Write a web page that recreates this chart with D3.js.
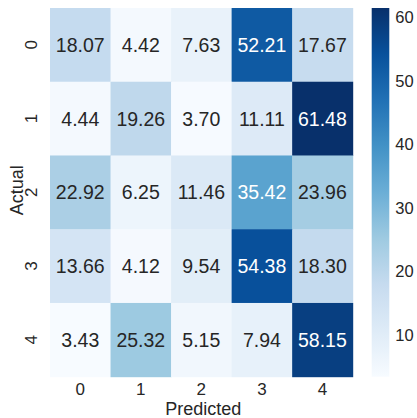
<!DOCTYPE html>
<html>
<head>
<meta charset="utf-8">
<script src="https://cdn.jsdelivr.net/npm/d3@7/dist/d3.min.js"></script>
<style>
  html, body { margin: 0; padding: 0; background: #ffffff; }
  svg { display: block; font-family: "Liberation Sans", Arial, sans-serif; }
</style>
</head>
<body>
<svg id="chart" width="417" height="418"></svg>
<script>
// Confusion matrix, row = actual class, column = predicted class (percent)
const actualLabels = ["0", "1", "2", "3", "4"];
const predictedLabels = ["0", "1", "2", "3", "4"];
const row0 = [18.07, 4.42, 7.63, 52.21, 17.67];
const row1 = [4.44, 19.26, 3.70, 11.11, 61.48];
const row2 = [22.92, 6.25, 11.46, 35.42, 23.96];
const row3 = [13.66, 4.12, 9.54, 54.38, 18.30];
const row4 = [3.43, 25.32, 5.15, 7.94, 58.15];
const matrix = [row0, row1, row2, row3, row4];
const colorbarTicks = [10, 20, 30, 40, 50, 60];

// Blues colormap stops, linearly interpolated
const bluesStops = ["#f7fbff", "#deebf7", "#c6dbef", "#9ecae1", "#6baed6",
                    "#4292c6", "#2171b5", "#08519c", "#08306b"];

const svg = d3.select("#chart");
const textDark = "#262626";
const fontFam = "Liberation Sans, Arial, sans-serif";

const plot = { left: 50, top: 8, width: 302.7, height: 368.7 };
const cbar = { left: 371.7, width: 17.6 };

const allValues = matrix.flat();
const vmin = d3.min(allValues), vmax = d3.max(allValues);

const norm = d3.scaleLinear().domain([vmin, vmax]).range([0, 1]).clamp(true);
const stopScale = d3.scaleLinear()
  .domain(d3.range(bluesStops.length).map(i => i / (bluesStops.length - 1)))
  .range(bluesStops)
  .interpolate(d3.interpolateRgb);
const color = v => stopScale(norm(v));

const x = d3.scaleBand().domain(predictedLabels).range([plot.left, plot.left + plot.width]);
const y = d3.scaleBand().domain(actualLabels).range([plot.top, plot.top + plot.height]);

const cells = [];
matrix.forEach((row, i) => row.forEach((v, j) => cells.push({ a: actualLabels[i], p: predictedLabels[j], v })));

// luminance test for choosing annotation colour
function luminance(c) {
  const rgb = d3.rgb(c);
  const f = ch => { ch /= 255; return ch <= 0.03928 ? ch / 12.92 : Math.pow((ch + 0.055) / 1.055, 2.4); };
  return 0.2126 * f(rgb.r) + 0.7152 * f(rgb.g) + 0.0722 * f(rgb.b);
}

const g = svg.append("g");
g.selectAll("rect.cell").data(cells).join("rect")
  .attr("class", "cell")
  .attr("x", d => x(d.p))
  .attr("y", d => y(d.a))
  .attr("width", x.bandwidth() + 0.5)
  .attr("height", y.bandwidth() + 0.5)
  .attr("fill", d => color(d.v));

g.selectAll("text.annot").data(cells).join("text")
  .attr("class", "annot")
  .attr("x", d => x(d.p) + x.bandwidth() / 2)
  .attr("y", d => y(d.a) + y.bandwidth() / 2 + 7)
  .attr("text-anchor", "middle")
  .attr("font-size", 19.5)
  .attr("fill", d => luminance(color(d.v)) > 0.408 ? textDark : "#ffffff")
  .text(d => d.v.toFixed(2));

// x axis (no tick marks, no domain line)
const xAxis = svg.append("g")
  .attr("transform", `translate(0,${plot.top + plot.height})`)
  .call(d3.axisBottom(x).tickSize(0).tickPadding(6));
xAxis.select(".domain").remove();
xAxis.selectAll("text").attr("font-size", 17).attr("fill", textDark)
  .attr("font-family", fontFam);

// y axis with rotated labels
const yAxis = svg.append("g")
  .attr("transform", `translate(${plot.left},0)`)
  .call(d3.axisLeft(y).tickSize(0).tickPadding(0));
yAxis.select(".domain").remove();
yAxis.selectAll(".tick text")
  .attr("font-size", 17).attr("fill", textDark)
  .attr("font-family", fontFam)
  .attr("x", null).attr("dy", null)
  .attr("text-anchor", "middle")
  .attr("transform", "translate(-13,0) rotate(-90)");

svg.append("text")
  .attr("x", plot.left + plot.width / 2 + 2)
  .attr("y", 415)
  .attr("text-anchor", "middle")
  .attr("font-size", 18)
  .attr("fill", textDark)
  .text("Predicted");

svg.append("text")
  .attr("transform", `translate(23,${plot.top + plot.height / 2 - 2}) rotate(-90)`)
  .attr("text-anchor", "middle")
  .attr("font-size", 18)
  .attr("fill", textDark)
  .text("Actual");

// colour bar
const defs = svg.append("defs");
const grad = defs.append("linearGradient").attr("id", "cbgrad")
  .attr("x1", 0).attr("y1", 1).attr("x2", 0).attr("y2", 0);
bluesStops.forEach((c, i) => grad.append("stop")
  .attr("offset", i / (bluesStops.length - 1)).attr("stop-color", c));

svg.append("rect")
  .attr("x", cbar.left).attr("y", plot.top)
  .attr("width", cbar.width).attr("height", plot.height)
  .attr("fill", "url(#cbgrad)");

const cy = d3.scaleLinear().domain([vmin, vmax]).range([plot.top + plot.height, plot.top]);
const cAxis = svg.append("g")
  .attr("transform", `translate(${cbar.left + cbar.width},0)`)
  .call(d3.axisRight(cy).tickValues(colorbarTicks).tickSize(0).tickPadding(6));
cAxis.select(".domain").remove();
cAxis.selectAll("text").attr("font-size", 16.5).attr("fill", textDark)
  .attr("font-family", fontFam);
</script>
</body>
</html>
